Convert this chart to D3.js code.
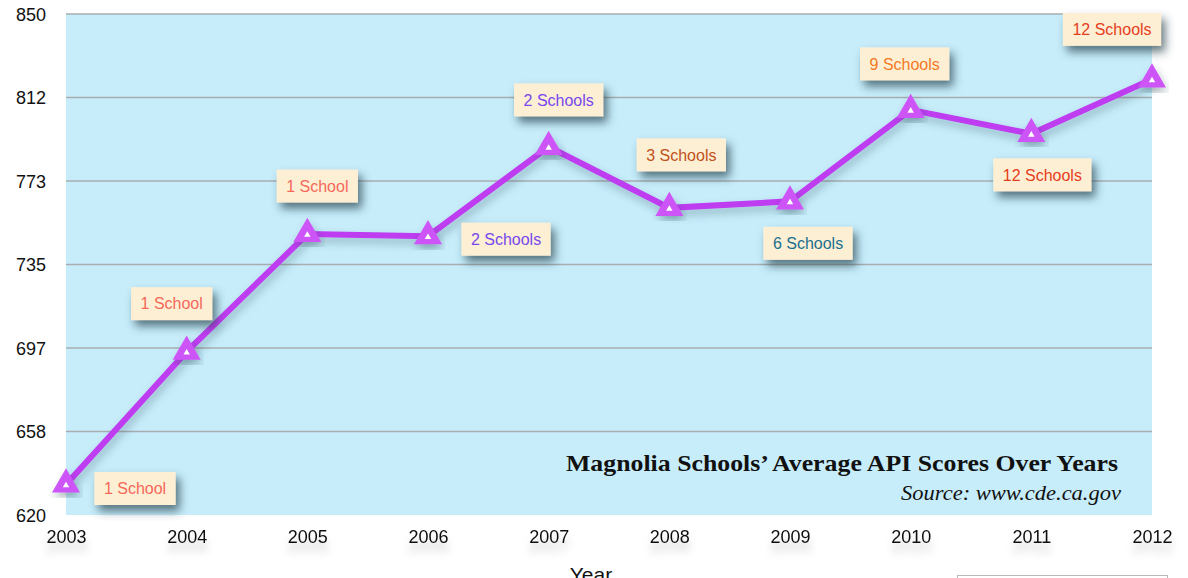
<!DOCTYPE html>
<html><head><meta charset="utf-8">
<script src="https://cdn.jsdelivr.net/npm/d3@7"></script>
<style>
html,body{margin:0;padding:0;background:#fff;}
svg{display:block;}
</style></head>
<body>
<svg id="chart" width="1188" height="578"></svg>
<script>
// ---- data ----
const years = [2003, 2004, 2005, 2006, 2007, 2008, 2009, 2010, 2011, 2012];
const apiScores = [634, 695, 749, 748, 789, 761, 764, 806, 795, 820];
const schoolLabels = ["1 School", "1 School", "1 School", "2 Schools", "2 Schools", "3 Schools", "6 Schools", "9 Schools", "12 Schools", "12 Schools"];
const yTickValues = [620, 620 + 230/6, 620 + 460/6, 735, 620 + 920/6, 620 + 1150/6, 850];
const chartTitle = "Magnolia Schools\u2019 Average API Scores Over Years";
const chartSource = "Source: www.cde.ca.gov";
const xAxisTitle = "Year";

// ---- layout / style ----
const labelColors = ["#f5685a", "#f5685a", "#f5685a", "#7748ee", "#7748ee", "#c0521c", "#1b6f8e", "#f47a1f", "#e63d1c", "#e63d1c"];
const labelOffsets = [[69, 4], [-15, -48], [10, -48], [78, 3], [10, -47], [12, -53], [18, 42], [-6, -46], [11, 41], [-40, -50]];

const svg = d3.select("#chart");
const x = d3.scaleLinear().domain([2003, 2012]).range([66, 1152]);
const y = d3.scaleLinear().domain([620, 850]).range([515, 14]);

const defs = svg.append("defs");
const f1 = defs.append("filter").attr("id", "boxShadow").attr("x", "-50%").attr("y", "-50%").attr("width", "200%").attr("height", "220%");
f1.append("feDropShadow").attr("dx", 4).attr("dy", 6).attr("stdDeviation", 5).attr("flood-color", "#23404a").attr("flood-opacity", 0.7);
const f2 = defs.append("filter").attr("id", "textShadow").attr("x", "-50%").attr("y", "-50%").attr("width", "200%").attr("height", "300%");
f2.append("feDropShadow").attr("dx", 0).attr("dy", 9).attr("stdDeviation", 4).attr("flood-color", "#000").attr("flood-opacity", 0.22);
const f3 = defs.append("filter").attr("id", "lineShadow").attr("x", "-10%").attr("y", "-10%").attr("width", "120%").attr("height", "130%");
f3.append("feDropShadow").attr("dx", 2).attr("dy", 5).attr("stdDeviation", 4).attr("flood-color", "#2a4a55").attr("flood-opacity", 0.35);

// background
svg.append("rect").attr("x", x(2003)).attr("y", y(850)).attr("width", x(2012) - x(2003)).attr("height", y(620) - y(850)).attr("fill", "#c7edfb");

// gridlines
svg.append("g").selectAll("line").data(yTickValues.filter(v => v > 620)).join("line")
  .attr("x1", x(2003)).attr("x2", x(2012)).attr("y1", d => y(d)).attr("y2", d => y(d))
  .attr("stroke", "#a9adaf").attr("stroke-width", 1.6);

// y axis
const yAxis = svg.append("g").attr("transform", `translate(${x(2003) - 20},0)`)
  .call(d3.axisLeft(y).tickValues(yTickValues).tickFormat(d => Math.round(d)).tickSize(0).tickPadding(0));
yAxis.select(".domain").remove();
yAxis.selectAll("text").attr("font-family", "Liberation Sans, Arial, sans-serif").attr("font-size", 18).attr("fill", "#111").attr("dy", "0.36em").attr("x", 0);

// x axis
const xAxis = svg.append("g").attr("transform", `translate(0,${y(620) + 22})`)
  .call(d3.axisBottom(x).tickValues(years).tickFormat(d3.format("d")).tickSize(0).tickPadding(0));
xAxis.select(".domain").remove();
xAxis.selectAll("text").attr("font-family", "Liberation Sans, Arial, sans-serif").attr("font-size", 18).attr("fill", "#111").attr("dy", "0.36em").attr("y", 0)
  .attr("filter", "url(#textShadow)");

// x axis title (partly below the page edge, as in the reference)
svg.append("text").attr("x", 591).attr("y", 582).attr("text-anchor", "middle")
  .attr("font-family", "Liberation Sans, Arial, sans-serif").attr("font-size", 21).attr("fill", "#111").text(xAxisTitle);

// bottom-right box (partially visible)
svg.append("rect").attr("x", 957.5).attr("y", 575.5).attr("width", 210).attr("height", 40).attr("fill", "#fff").attr("stroke", "#b8b8b8").attr("stroke-width", 1);

// title
svg.append("text").attr("x", 1118).attr("y", 471).attr("text-anchor", "end")
  .attr("font-family", "Liberation Serif, serif").attr("font-weight", "bold").attr("font-size", 24)
  .attr("textLength", 552).attr("lengthAdjust", "spacingAndGlyphs").attr("fill", "#111").text(chartTitle);
svg.append("text").attr("x", 1121).attr("y", 500).attr("text-anchor", "end")
  .attr("font-family", "Liberation Serif, serif").attr("font-style", "italic").attr("font-size", 21)
  .attr("textLength", 220).attr("lengthAdjust", "spacingAndGlyphs").attr("fill", "#111").text(chartSource);

// line
const pts = years.map((yr, i) => ({ yr, v: apiScores[i], lab: schoolLabels[i], col: labelColors[i], off: labelOffsets[i] }));
svg.append("path").datum(pts)
  .attr("d", d3.line().x(d => x(d.yr)).y(d => y(d.v)))
  .attr("fill", "none").attr("stroke", "#be3cf0").attr("stroke-width", 6).attr("stroke-linejoin", "miter")
  .attr("filter", "url(#lineShadow)");

// markers
const mk = svg.append("g").selectAll("g").data(pts).join("g")
  .attr("transform", d => `translate(${x(d.yr)},${y(d.v)})`);
mk.append("path").attr("d", d3.symbol().type(d3.symbolTriangle).size(340)).attr("fill", "#cd55f7").attr("filter", "url(#lineShadow)");
mk.append("path").attr("d", d3.symbol().type(d3.symbolTriangle).size(18)).attr("fill", "#fff").attr("transform", "translate(0,1)");

// labels
const lg = svg.append("g").selectAll("g").data(pts).join("g")
  .attr("transform", d => `translate(${x(d.yr) + d.off[0]},${y(d.v) + d.off[1]})`);
const rects = lg.append("rect").attr("fill", "#fdefd4").attr("filter", "url(#boxShadow)");
const texts = lg.append("text").attr("text-anchor", "middle").attr("dy", "0.36em")
  .attr("font-family", "Liberation Sans, Arial, sans-serif").attr("font-size", 16)
  .attr("fill", d => d.col).text(d => d.lab);
texts.each(function (d) {
  const w = this.getComputedTextLength() + 19;
  d3.select(this.parentNode).select("rect").attr("x", -w / 2).attr("y", -16.5).attr("width", w).attr("height", 33);
});
</script>
</body></html>
